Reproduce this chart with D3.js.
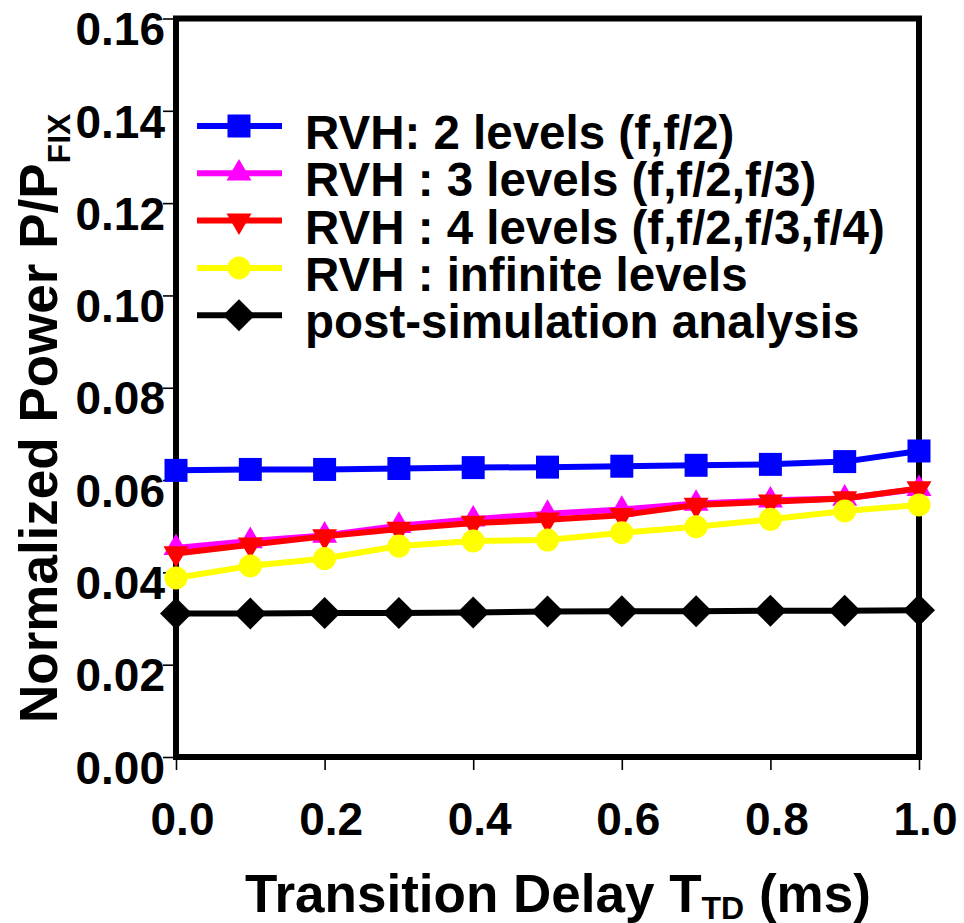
<!DOCTYPE html>
<html>
<head>
<meta charset="utf-8">
<script src="https://cdn.jsdelivr.net/npm/d3@7"></script>
<style>
  body { margin: 0; background: white; }
  text { font-family: "Liberation Sans", Arial, sans-serif; font-weight: bold; }
</style>
</head>
<body>
<div id="chart"></div>
<script>
// transition delay (ms)
var delays = [0.0, 0.1, 0.2, 0.3, 0.4, 0.5, 0.6, 0.7, 0.8, 0.9, 1.0];

var twoLevels      = [0.0621, 0.0623, 0.0623, 0.0625, 0.0627, 0.0628, 0.0630, 0.0632, 0.0634, 0.0640, 0.0663];
var threeLevels    = [0.0453, 0.0468, 0.0480, 0.0501, 0.0515, 0.0527, 0.0536, 0.0549, 0.0556, 0.0560, 0.0581];
var fourLevels     = [0.0441, 0.0460, 0.0478, 0.0494, 0.0507, 0.0514, 0.0524, 0.0546, 0.0553, 0.0560, 0.0582];
var infiniteLevels = [0.0388, 0.0414, 0.0430, 0.0457, 0.0468, 0.0470, 0.0486, 0.0499, 0.0515, 0.0533, 0.0546];
var postSimulation = [0.0311, 0.0311, 0.0312, 0.0312, 0.0313, 0.0315, 0.0316, 0.0316, 0.0317, 0.0317, 0.0318];

var seriesNames = [
  "RVH: 2 levels (f,f/2)",
  "RVH : 3 levels (f,f/2,f/3)",
  "RVH : 4 levels (f,f/2,f/3,f/4)",
  "RVH : infinite levels",
  "post-simulation analysis"
];
var seriesValues = [twoLevels, threeLevels, fourLevels, infiniteLevels, postSimulation];

var xTicks = [0.0, 0.2, 0.4, 0.6, 0.8, 1.0];
var yTicks = [0.00, 0.02, 0.04, 0.06, 0.08, 0.10, 0.12, 0.14, 0.16];

// marker look per series
var colors  = ["#0000ff", "#ff00ff", "#ff0000", "#ffff00", "#000000"];
var shapes  = [d3.symbolSquare, d3.symbolTriangle, d3.symbolTriangle, d3.symbolCircle, d3.symbolSquare];
var sizes   = [529, 270, 270, 415, 512];
var rotates = [0, 0, 180, 0, 45];

var width = 964, height = 923;
var plotLeft = 176, plotRight = 919, plotTop = 18.5, plotBottom = 757;

var svg = d3.select("#chart").append("svg")
            .attr("width", width)
            .attr("height", height);

var x = d3.scaleLinear().domain([0, 1]).range([plotLeft, plotRight]);
var y = d3.scaleLinear().domain([0, 0.16]).range([plotBottom, plotTop]);

// axes
var yAxis = svg.append("g")
               .attr("transform", "translate(" + plotLeft + ",0)")
               .call(d3.axisLeft(y).tickValues(yTicks).tickSize(13).tickFormat(d3.format(".2f")));
var xAxis = svg.append("g")
               .attr("transform", "translate(0," + plotBottom + ")")
               .call(d3.axisBottom(x).tickValues(xTicks).tickSize(13).tickFormat(d3.format(".1f")));

[xAxis, yAxis].forEach(function (g) {
  g.select(".domain").remove();
  g.selectAll(".tick line").style("stroke", "black").style("stroke-width", 1.6);
  g.selectAll(".tick text").style("fill", "black").style("font-size", "46px");
});
yAxis.selectAll(".tick text").attr("x", -11).attr("dy", "0.57em");
xAxis.selectAll(".tick text").attr("y", 78).attr("dy", 0).attr("dx", 6);

// plot frame
svg.append("rect")
   .attr("x", plotLeft).attr("y", plotTop)
   .attr("width", plotRight - plotLeft).attr("height", plotBottom - plotTop)
   .style("fill", "none")
   .style("stroke", "black")
   .style("stroke-width", 6);

// series
var line = d3.line()
             .x(function (d, i) { return x(delays[i]); })
             .y(function (d) { return y(d); });

seriesValues.forEach(function (vals, s) {
  var g = svg.append("g");
  g.append("path")
   .datum(vals)
   .attr("d", line)
   .style("fill", "none")
   .style("stroke", colors[s])
   .style("stroke-width", 6)
   .style("stroke-linejoin", "round");
  g.selectAll("path.mark")
   .data(vals)
   .enter()
   .append("path")
   .attr("class", "mark")
   .attr("d", d3.symbol().type(shapes[s]).size(sizes[s]))
   .attr("transform", function (d, i) {
     return "translate(" + x(delays[i]) + "," + y(d) + ") rotate(" + rotates[s] + ")";
   })
   .style("fill", colors[s]);
});

// legend
var legend = svg.selectAll("g.legend")
                .data(seriesNames)
                .enter()
                .append("g")
                .attr("class", "legend")
                .attr("transform", function (d, i) { return "translate(197," + (126 + i * 47.3) + ")"; });

legend.append("line")
      .attr("x1", 0).attr("x2", 85)
      .style("stroke", function (d, i) { return colors[i]; })
      .style("stroke-width", 6);
legend.append("path")
      .attr("d", function (d, i) { return d3.symbol().type(shapes[i]).size(sizes[i])(); })
      .attr("transform", function (d, i) { return "translate(42,0) rotate(" + rotates[i] + ")"; })
      .style("fill", function (d, i) { return colors[i]; });
legend.append("text")
      .attr("x", 108)
      .attr("y", 23)
      .style("font-size", "47.5px")
      .text(function (d) { return d; });

// axis titles
var xTitle = svg.append("text")
                .attr("x", 245)
                .attr("y", 912)
                .style("font-size", "53px");
xTitle.append("tspan").text("Transition Delay T");
xTitle.append("tspan").attr("dy", 7).style("font-size", "32px").text("TD");
xTitle.append("tspan").attr("dy", -7).text(" (ms)");

var yTitle = svg.append("text")
                .attr("transform", "translate(57,723) rotate(-90)")
                .style("font-size", "53px");
yTitle.append("tspan").text("Normalized Power P/P");
yTitle.append("tspan").attr("dy", 13).style("font-size", "32px").text("FIX");
</script>
</body>
</html>
